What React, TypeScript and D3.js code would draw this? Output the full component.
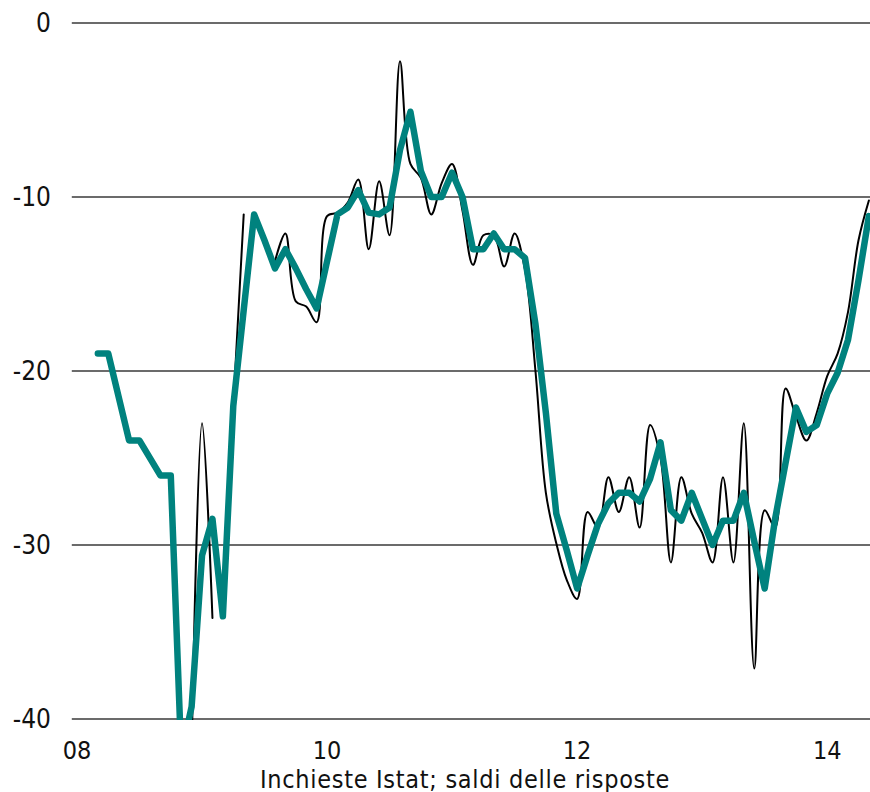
import React from "react";
import * as d3 from "d3";

// Month index 0 = Jan 2008 ... 76 = May 2014
const tickMonths = [0, 24, 48, 72];
const tickLabels = ["08", "10", "12", "14"];
const yTicks = [0, -10, -20, -30, -40];
const axisTitle = "Inchieste Istat; saldi delle risposte";

// thin black series (monthly, null = missing)
const blackValues: (number | null)[] = [
  null, null, null, null, null, null, null, null, null, null, null, -42,
  -23, -34.2, null, -22, -11, null, null, -13.7, -12.1, -16.0, -16.3, -17.2,
  -11.1, -10.9, -10.3, -9.0, -13.0, -9.1, -12.2, -2.2, -8.1, -8.9, -11.0, -9.2,
  -8.1, -10.8, -13.9, -12.2, -12.2, -14.0, -12.1, -14.2, -20.0, -27.0, -29.9, -32.0,
  -33.1, -28.1, -29.0, -26.1, -28.1, -26.1, -29.0, -23.1, -25.0, -31.0, -26.1, -28.2,
  -29.3, -31.0, -26.1, -31.0, -23.0, -37.1, -28.0, -29.0, -21.0, -22.6, -24.0, -22.4,
  -20.3, -19.0, -16.6, -12.5, -10.2,
];

// thick teal series (monthly, null = missing)
const tealValues: (number | null)[] = [
  null, null, -19, -19, null, -24, -24, null, -26, -26, -42, -39.3,
  -30.6, -28.5, -34.1, -22, -16.5, -11, -12.5, -14.1, -13.0, -14.1, -15.3, -16.4,
  -13.7, -11.0, -10.6, -9.6, -10.9, -11.0, -10.6, -7.3, -5.1, -8.5, -10.0, -10.0,
  -8.6, -10.0, -13.0, -13.0, -12.1, -13.0, -13.0, -13.5, -17.3, -22.4, -28.2, -30.3,
  -32.5, -30.6, -28.8, -27.6, -27.0, -27.0, -27.5, -26.2, -24.1, -28.0, -28.6, -27.0,
  -28.5, -30.0, -28.6, -28.6, -27.0, -29.8, -32.5, -28.5, -25.3, -22.1, -23.5, -23.1,
  -21.3, -20.1, -18.2, -14.8, -11.1,
];

const W = 870;
const H = 792;
const FONT = "'Liberation Sans Narrow', 'DejaVu Sans Condensed', 'Arial Narrow', sans-serif";

export default function App() {
  const x = d3.scaleLinear().domain([0, 72]).range([77, 827.2]);
  const y = d3.scaleLinear().domain([0, -40]).range([23, 719]);

  const blackPts = blackValues.map((v, i) => [i, v] as [number, number | null]);
  const tealPts = tealValues
    .map((v, i) => [i, v] as [number, number | null])
    .filter((d) => d[1] !== null) as [number, number][];

  const blackLine = d3
    .line<[number, number | null]>()
    .defined((d) => d[1] !== null)
    .x((d) => x(d[0]))
    .y((d) => y(d[1] as number))
    .curve(d3.curveCatmullRom.alpha(0.5));

  const tealLine = d3
    .line<[number, number]>()
    .x((d) => x(d[0]))
    .y((d) => y(d[1]));

  const gridX0 = x(-0.5);

  return (
    <svg
      width={W}
      height={H}
      style={{ position: "absolute", left: 0, top: 0, background: "#fff" }}
      fontFamily={FONT}
    >
      <defs>
        <clipPath id="plotClip">
          <rect x={gridX0} y={0} width={W - gridX0} height={y(-40) + 1} />
        </clipPath>
      </defs>
      {yTicks.map((t) => (
        <g key={t}>
          <line
            x1={gridX0}
            x2={W}
            y1={y(t)}
            y2={y(t)}
            stroke="#3a3a3a"
            strokeWidth={1.3}
          />
          <text
            x={51}
            y={y(t) + 9}
            textAnchor="end"
            fontSize={26}
            fill="#111"
          >
            {t}
          </text>
        </g>
      ))}
      <g clipPath="url(#plotClip)">
        <path
          d={blackLine(blackPts) || ""}
          fill="none"
          stroke="#000"
          strokeWidth={2}
          strokeLinejoin="round"
          strokeLinecap="round"
        />
        <path
          d={tealLine(tealPts) || ""}
          fill="none"
          stroke="#00827e"
          strokeWidth={6.5}
          strokeLinejoin="round"
          strokeLinecap="round"
        />
      </g>
      {tickMonths.map((m, i) => (
        <text
          key={m}
          x={x(m)}
          y={759}
          textAnchor="middle"
          fontSize={25}
          fill="#111"
        >
          {tickLabels[i]}
        </text>
      ))}
      <text
        x={465}
        y={787.5}
        textAnchor="middle"
        fontSize={25}
        letterSpacing={0.7}
        fill="#111"
      >
        {axisTitle}
      </text>
    </svg>
  );
}
